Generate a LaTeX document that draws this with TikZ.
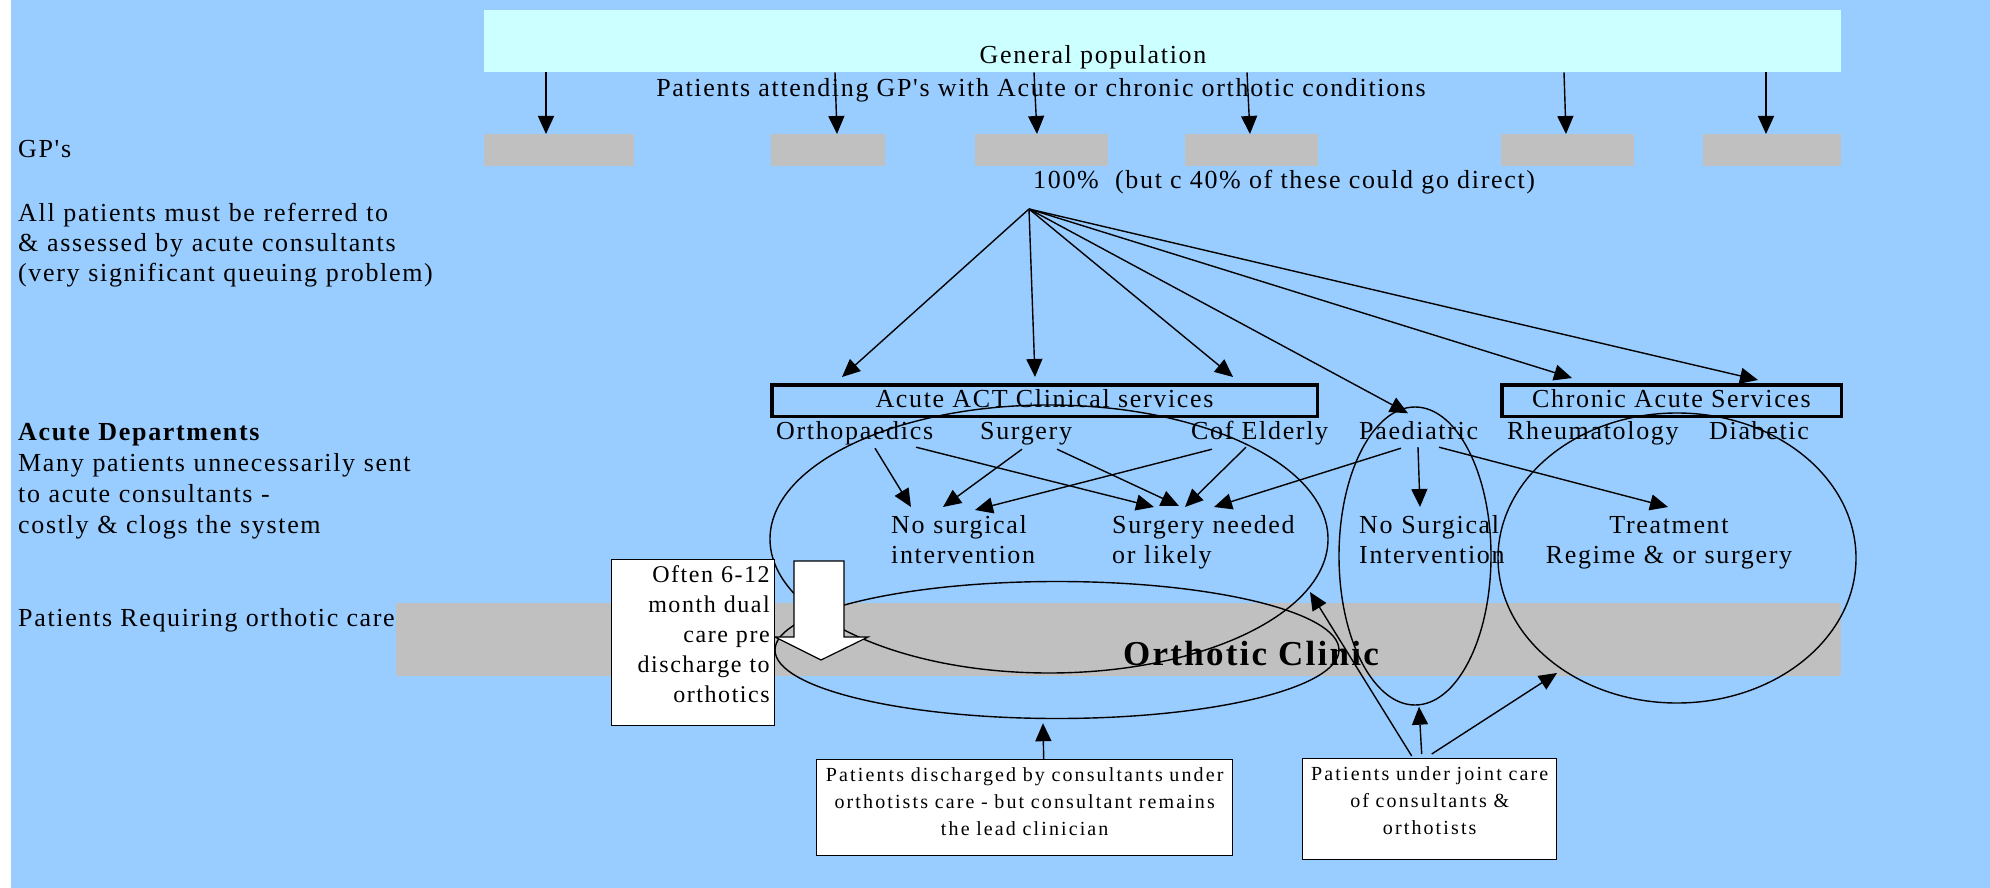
\documentclass[tikz,border=0pt]{standalone}
\usepackage{fontspec}
\setmainfont{Liberation Serif}[LetterSpace=6.4, Ligatures=TeXOff]
\newfontfamily\boxfont{Liberation Serif}[LetterSpace=10.6, Ligatures=TeXOff]
\usetikzlibrary{arrows.meta,calc,shapes.geometric}
\definecolor{bgblue}{HTML}{99CCFF}
\definecolor{popcyan}{HTML}{CCFFFF}
\definecolor{gpgray}{HTML}{C0C0C0}
\begin{document}
\begin{tikzpicture}[x=1pt,y=-1pt,
  arr/.style={-{Triangle[length=18pt,width=16pt]}, line width=1.4pt},
  gpbox/.style={fill=gpgray, inner sep=0pt, anchor=north west, minimum height=32pt},
  main/.style={font=\fontsize{26}{30.5}\selectfont, inner sep=0pt},
  lbl/.style={main, anchor=base west, text height=18pt, text depth=6pt},
  multi/.style={main, anchor=base west, align=left, text width=#1},
  svcbox/.style={main, draw, line width=3.5pt, inner sep=0pt, minimum height=31.5pt, text height=18pt, text depth=5pt},
  ell/.style={draw, ellipse, line width=1.4pt, inner sep=0pt},
  notebox/.style={draw, fill=white, line width=1.4pt, anchor=north west, inner sep=0pt},
]
\useasboundingbox (0,0) rectangle (1990,888);
\fill[white] (0,0) rectangle (1990,888);
\fill[bgblue] (11,0) rectangle (1990,888);

% population and GPs
\node[fill=popcyan, inner sep=0pt, anchor=north west, minimum width=1357pt, minimum height=62pt] (pop) at (484,10) {};
\node[main, anchor=base] (poptxt) at (1093,64) {General population};
\node[main, anchor=base] (attend) at (1041,97) {Patients attending GP's with Acute or chronic orthotic conditions};

\node[gpbox, minimum width=150pt] (gp1) at (484,134) {};
\node[gpbox, minimum width=114pt] (gp2) at (771,134) {};
\node[gpbox, minimum width=133pt] (gp3) at (975,134) {};
\node[gpbox, minimum width=133pt] (gp4) at (1185,134) {};
\node[gpbox, minimum width=133pt] (gp5) at (1501,134) {};
\node[gpbox, minimum width=138pt] (gp6) at (1703,134) {};

\draw[arr] ($(pop.south west)+(62,0)$) -- ($(gp1.north west)+(62,0)$);
\draw[arr] ($(pop.south west)+(351,0)$) -- ($(gp2.north west)+(66,0)$);
\draw[arr] ($(pop.south west)+(550,0)$) -- ($(gp3.north west)+(62,0)$);
\draw[arr] ($(pop.south west)+(763,0)$) -- ($(gp4.north west)+(65,0)$);
\draw[arr] ($(pop.south west)+(1080,0)$) -- ($(gp5.north west)+(65,0)$);
\draw[arr] ($(pop.south west)+(1282,0)$) -- ($(gp6.north west)+(63,0)$);

\node[main, anchor=base west] (pct) at (1033,189) {100\%\ \ (but c 40\% of these could go direct)};
\coordinate (fan) at (1029,209);

% left texts
\node[lbl] (gptxt) at (18,158) {GP's};
\node[multi=480pt] (allpat) at (18,221) {All patients must be referred to\\ \& assessed by acute consultants\\ (very significant queuing problem)};
\node[multi=480pt, font=\fontsize{26}{31}\selectfont] (acdep) at (18,440) {\textbf{Acute Departments}\\Many patients unnecessarily sent\\to acute consultants -\\costly \& clogs the system};
\node[lbl] (reqtxt) at (18,626) {Patients Requiring orthotic care};

% orthotic clinic band
\node[fill=gpgray, inner sep=0pt, anchor=north west, minimum width=1445pt, minimum height=73pt] (band) at (396,603) {};
\node[font=\bfseries\fontsize{35}{40}\selectfont, inner sep=0pt, anchor=base] (clinic) at (1251,665) {Orthotic Clinic};

% service boxes
\node[svcbox, minimum width=545.5pt] (act) at (1044.5,400.5) {Acute ACT Clinical services};
\node[svcbox, minimum width=339.5pt] (chr) at (1671.5,400.5) {Chronic Acute Services};

\node[lbl] (ortho) at (776,439) {Orthopaedics};
\node[lbl] (surg) at (980,439) {Surgery};
\node[lbl] (cofe) at (1191,439) {Cof Elderly};
\node[lbl] (paed) at (1359,439) {Paediatric};
\node[lbl] (rheum) at (1507,439) {Rheumatology};
\node[lbl] (diab) at (1709,439) {Diabetic};

\node[multi=300pt] (nosurg) at (891,533) {No surgical\\intervention};
\node[multi=300pt] (surgneed) at (1112,533) {Surgery needed\\or likely};
\node[multi=200pt] (nosurg2) at (1359,533) {No Surgical\\Intervention};
\node[main, anchor=base, align=center, text width=300pt] (treat) at (1669,533) {Treatment\\Regime \& or surgery};

% ellipses
\node[ell, minimum width=558pt, minimum height=268pt] (acell) at (1049,539) {};
\node[ell, minimum width=564pt, minimum height=137pt] (ortell) at (1057,650) {};
\node[ell, minimum width=152pt, minimum height=298pt] (pedell) at (1415,556) {};
\node[ell, minimum width=358pt, minimum height=290pt] (chrell) at (1677,558) {};

% fan arrows
\draw[arr] (fan) -- ($(act.north)+(-202.5,-6)$);
\draw[arr] (fan) -- ($(act.north)+(-9.5,-6)$);
\draw[arr] (fan) -- ($(act.north)+(188.5,-6)$);
\draw[arr] (fan) -- ($(pedell.north)+(-7,7)$);
\draw[arr] (fan) -- ($(chr.north)+(-99.5,-5)$);
\draw[arr] (fan) -- ($(chr.north)+(86.5,-3)$);

% department arrows
\draw[arr] ($(ortho.south west)+(99,3)$) -- ($(nosurg.base west)+(20,-26)$);
\draw[arr] ($(ortho.south west)+(140,2)$) -- ($(surgneed.base west)+(42,-26)$);
\draw[arr] ($(surg.south west)+(42,4)$) -- ($(nosurg.base west)+(52,-26)$);
\draw[arr] ($(surg.south west)+(77,4)$) -- ($(surgneed.base west)+(67,-27)$);
\draw[arr] ($(cofe.south west)+(21,4)$) -- ($(nosurg.base west)+(84,-23)$);
\draw[arr] ($(cofe.south west)+(55,2)$) -- ($(surgneed.base west)+(73,-26)$);
\draw[arr] ($(paed.south west)+(42,3)$) -- ($(surgneed.base west)+(102,-26)$);
\draw[arr] ($(paed.south west)+(59,2)$) -- ($(nosurg2.base west)+(61,-26)$);
\draw[arr] ($(paed.south west)+(80,2)$) -- ($(treat.base)+(-1,-26)$);

% white down arrow
\draw[fill=white, line width=1.2pt] (794,561) -- (844,561) -- (844,637) -- (868,637) -- (821,660) -- (775,637) -- (794,637) -- cycle;

% note boxes
\node[notebox, font=\fontsize{24}{30}\selectfont, align=right, text width=153pt, inner xsep=5pt, text height=23pt, text depth=143pt] (often) at (611,559) {Often 6-12\\month dual\\care pre\\discharge to\\orthotics};
\node[notebox, font=\boxfont\fontsize{20}{27}\selectfont, align=center, text width=416pt, text height=22pt, text depth=74pt] (dis) at (816,759) {Patients discharged by consultants under\\orthotists care - but consultant remains\\the lead clinician};
\node[notebox, font=\boxfont\fontsize{20}{27}\selectfont, align=center, text width=254pt, text height=22pt, text depth=79pt] (joint) at (1302,758) {Patients under joint care\\of consultants \&\\orthotists};

\draw[arr] ($(dis.north)+(19,0)$) -- ($(ortell.south)+(-14,4)$);
\draw[arr] ($(joint.north)+(-18,-2)$) -- ($(acell.center)+(261,53)$);
\draw[arr] ($(joint.north)+(-8,-4)$) -- ($(pedell.south)+(4,1)$);
\draw[arr] ($(joint.north)+(2,-4)$) -- ($(chrell.center)+(-120,115)$);
\end{tikzpicture}
\end{document}
